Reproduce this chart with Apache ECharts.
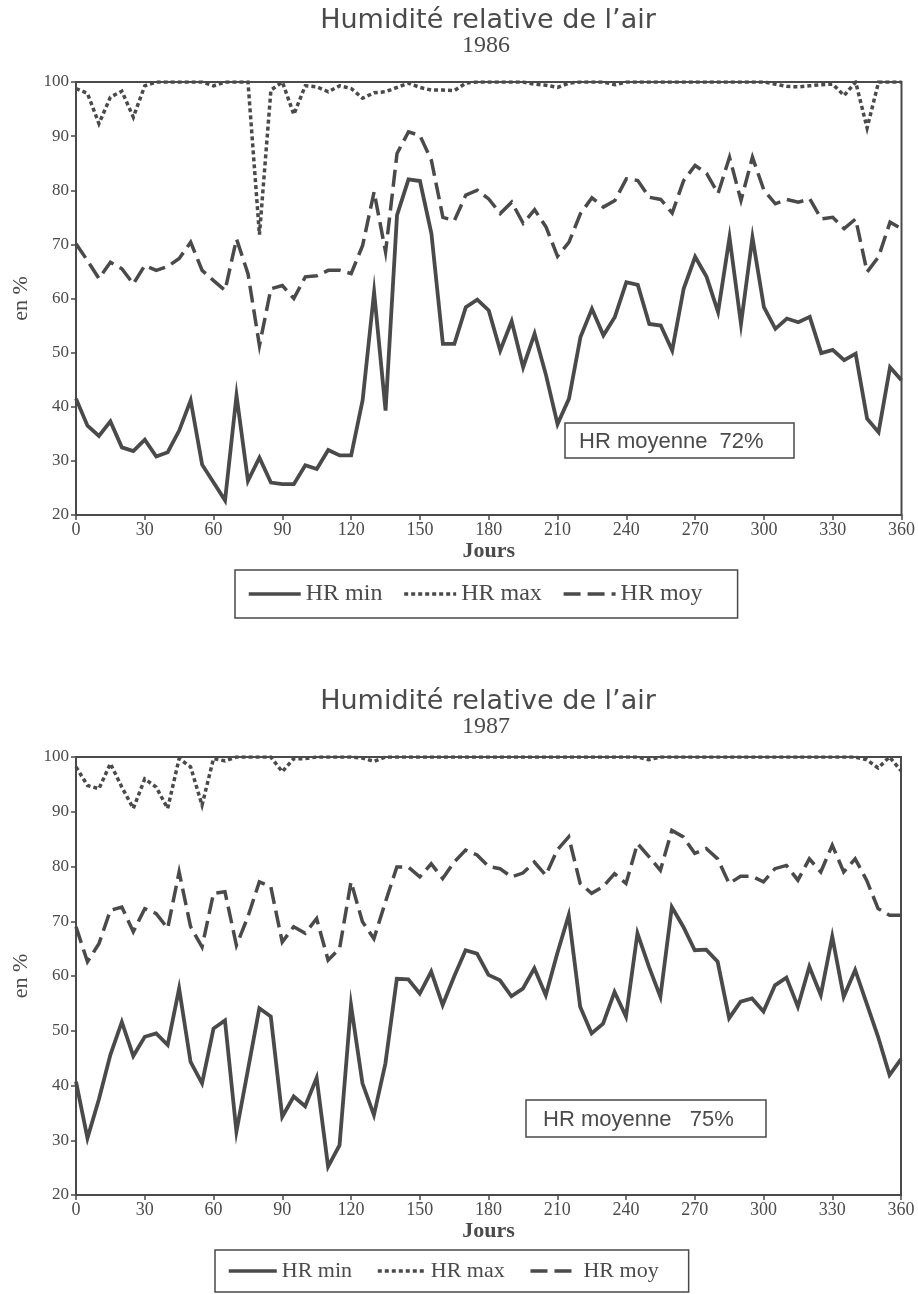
<!DOCTYPE html>
<html lang="fr">
<head>
<meta charset="utf-8">
<title>Humidité relative de l’air 1986–1987</title>
<script src="https://cdn.jsdelivr.net/npm/echarts@6/dist/echarts.min.js"></script>
<style>
  html, body { margin: 0; padding: 0; background: #fff; }
  #chart { width: 918px; height: 1294px; }
</style>
</head>
<body>
<div id="chart"></div>
<script>
// Jours de l'année (pas de 5 jours)
const jours = [0, 5, 10, 15, 20, 25, 30, 35, 40, 45, 50, 55, 60, 65, 70, 75, 80, 85, 90, 95,
  100, 105, 110, 115, 120, 125, 130, 135, 140, 145, 150, 155, 160, 165, 170, 175, 180, 185, 190, 195,
  200, 205, 210, 215, 220, 225, 230, 235, 240, 245, 250, 255, 260, 265, 270, 275, 280, 285, 290, 295,
  300, 305, 310, 315, 320, 325, 330, 335, 340, 345, 350, 355, 360];

// 1986
const hrMin1986 = [41.5, 36.5, 34.6, 37.3, 32.5, 31.8, 33.9, 30.8, 31.6, 35.6, 41.2, 29.3, 26.0, 22.7, 42.1, 26.3, 30.6, 26.0, 25.7, 25.7,
  29.2, 28.5, 32.0, 31.0, 31.0, 41.2, 61.2, 39.3, 75.4, 82.0, 81.7, 72.0, 51.6, 51.6, 58.4, 59.8, 57.8, 50.4, 55.8, 47.3,
  53.5, 45.8, 36.8, 41.5, 52.9, 58.1, 53.2, 56.6, 63.0, 62.5, 55.3, 55.0, 50.4, 61.8, 67.7, 64.0, 57.5, 71.3, 55.3, 71.3,
  58.4, 54.4, 56.3, 55.6, 56.6, 49.9, 50.5, 48.6, 49.8, 37.8, 35.3, 47.3, 44.9];
const hrMax1986 = [98.8, 97.9, 92.3, 97.2, 98.3, 93.5, 99.3, 100, 100, 100, 100, 100, 99.3, 100, 100, 100, 71.8, 98.5, 100, 94.0,
  99.3, 99.1, 98.2, 99.3, 98.8, 97.0, 98.0, 98.2, 99.0, 99.8, 99.0, 98.5, 98.5, 98.4, 99.8, 100, 100, 100, 100, 100,
  99.6, 99.4, 99.0, 99.8, 100, 100, 100, 99.5, 100, 100, 100, 100, 100, 100, 100, 100, 100, 100, 100, 100,
  100, 99.6, 99.2, 99.1, 99.3, 99.5, 99.6, 97.5, 100, 91.5, 100, 100, 100];
const hrMoy1986 = [70.1, 67.0, 63.7, 66.7, 65.5, 62.7, 66.1, 65.2, 65.9, 67.4, 70.4, 65.2, 63.3, 61.5, 71.0, 64.6, 51.3, 61.8, 62.4, 60.0,
  64.0, 64.2, 65.2, 65.2, 64.6, 69.8, 79.7, 68.6, 86.8, 90.8, 90.1, 85.5, 75.0, 74.4, 79.1, 80.0, 78.4, 75.7, 77.8, 73.9,
  76.4, 73.2, 67.8, 70.4, 75.7, 78.6, 76.9, 78.1, 82.1, 81.8, 78.7, 78.3, 75.8, 81.8, 84.6, 83.1, 79.4, 86.1, 78.1, 86.1,
  80.0, 77.5, 78.3, 77.8, 78.4, 74.7, 75.0, 72.9, 74.7, 64.9, 67.7, 74.1, 72.9];

// 1987
const hrMin1987 = [40.7, 30.4, 37.5, 45.6, 51.6, 45.4, 48.9, 49.5, 47.4, 57.7, 44.3, 40.4, 50.4, 51.9, 31.6, 42.8, 54.1, 52.6, 34.3, 38.0,
  36.2, 41.4, 25.2, 29.1, 54.7, 40.4, 34.6, 44.0, 59.5, 59.4, 56.8, 60.8, 54.7, 59.9, 64.7, 64.1, 60.2, 59.2, 56.3, 57.7,
  61.4, 56.5, 64.1, 71.1, 54.4, 49.5, 51.3, 57.1, 52.6, 67.8, 61.7, 56.2, 72.6, 69.0, 64.7, 64.8, 62.6, 52.3, 55.3, 55.9,
  53.5, 58.3, 59.7, 54.4, 61.7, 56.5, 67.2, 56.2, 61.1, 55.0, 48.9, 41.9, 44.8];
const hrMax1987 = [98.2, 94.8, 94.2, 98.8, 94.5, 90.6, 96.0, 94.5, 90.6, 99.7, 98.2, 91.2, 99.7, 99.3, 100, 100, 100, 100, 97.3, 99.7,
  99.7, 100, 100, 100, 100, 99.8, 99.2, 100, 100, 100, 100, 100, 100, 100, 100, 100, 100, 100, 100, 100,
  100, 100, 100, 100, 100, 100, 100, 100, 100, 100, 99.5, 100, 100, 100, 100, 100, 100, 100, 100, 100,
  100, 100, 100, 100, 100, 100, 100, 100, 100, 99.5, 98.0, 100, 97.5];
const hrMoy1987 = [69.0, 62.6, 65.9, 72.0, 72.6, 68.1, 72.3, 71.4, 68.7, 79.0, 69.0, 65.3, 75.1, 75.4, 65.6, 70.8, 77.2, 76.3, 66.2, 69.0,
  67.8, 70.5, 62.9, 65.0, 77.2, 69.9, 66.8, 73.5, 79.9, 79.9, 78.1, 80.5, 77.8, 80.8, 83.0, 82.1, 80.0, 79.6, 78.1, 78.8,
  80.8, 78.4, 83.0, 85.4, 76.9, 75.1, 76.3, 78.7, 76.9, 84.2, 81.8, 79.3, 86.6, 85.4, 82.4, 83.3, 81.4, 76.9, 78.2, 78.2,
  77.2, 79.6, 80.2, 77.5, 81.4, 79.0, 83.9, 79.0, 81.4, 77.5, 72.3, 71.1, 71.1];

const annees = ['1986', '1987'];
const moyennes = ['HR moyenne  72%', 'HR moyenne   75%'];
const nomsSeries = ['HR min', 'HR max', 'HR moy'];

const INK = '#4a4a4a';
const SERIF = '"Liberation Serif", "Times New Roman", serif';
const SANS = '"Liberation Sans", Arial, sans-serif';

const paires = (vals) => jours.map((j, i) => [j, vals[i]]);

const styles = [
  { type: 'solid', width: 3.8 },
  { type: [4, 3], width: 3.5 },
  { type: [17, 7], width: 3.5 }
];

function serie(nom, vals, idx, style) {
  return {
    name: nom, type: 'line', xAxisIndex: idx, yAxisIndex: idx,
    data: paires(vals), symbol: 'none', smooth: false, animation: false,
    lineStyle: { color: INK, width: style.width, type: style.type, cap: 'butt', join: 'miter' },
    itemStyle: { color: INK }
  };
}

function axeX(idx) {
  return {
    type: 'value', gridIndex: idx, min: 0, max: 360, interval: 30,
    name: 'Jours', nameLocation: 'middle', nameGap: 23,
    nameTextStyle: { fontFamily: SERIF, fontSize: 22, fontWeight: 'bold', color: INK },
    axisLine: { show: true, lineStyle: { color: INK, width: 2 } },
    axisTick: { show: true, length: 5, lineStyle: { color: INK, width: 1.5 } },
    axisLabel: { fontFamily: SERIF, fontSize: 18, color: INK, margin: 6 },
    splitLine: { show: false }
  };
}

function axeY(idx) {
  return {
    type: 'value', gridIndex: idx, min: 20, max: 100, interval: 10,
    name: 'en %', nameLocation: 'middle', nameGap: 44,
    nameTextStyle: { fontFamily: SERIF, fontSize: 22, color: INK },
    axisLine: { show: true, lineStyle: { color: INK, width: 2 } },
    axisTick: { show: true, length: 5, lineStyle: { color: INK, width: 1.5 } },
    axisLabel: { fontFamily: SERIF, fontSize: 17, color: INK, margin: 7 },
    splitLine: { show: false }
  };
}

function legende(left, top, fontSize, itemWidth, itemGap, padding) {
  return {
    left: left, top: top, orient: 'horizontal',
    data: nomsSeries,
    itemWidth: itemWidth, itemHeight: 14, itemGap: itemGap,
    padding: padding,
    borderColor: INK, borderWidth: 1.5, borderRadius: 0,
    selectedMode: false,
    // only the line pattern is shown as key, no marker
    itemStyle: { opacity: 0 },
    lineStyle: { width: 3.5 },
    textStyle: { fontFamily: SERIF, fontSize: fontSize, color: INK }
  };
}

function titre(cx, cy, annee) {
  return [
    { type: 'text', x: cx, y: cy, silent: true,
      style: { text: 'Humidité relative de l’air', fontFamily: '"DejaVu Sans", sans-serif', fontSize: 27,
               fill: INK, align: 'center', verticalAlign: 'middle' } },
    { type: 'text', x: cx - 2, y: cy + 25, silent: true,
      style: { text: annee, fontFamily: SERIF, fontSize: 24, fill: INK, align: 'center', verticalAlign: 'middle' } }
  ];
}

function encadre(x, y, w, h, tx, texte) {
  return [
    { type: 'rect', z: 10, silent: true, shape: { x: x, y: y, width: w, height: h },
      style: { fill: '#fff', stroke: INK, lineWidth: 1.5 } },
    { type: 'text', z: 11, x: tx, y: y + h / 2 + 1, silent: true,
      style: { text: texte, fontFamily: SANS, fontSize: 22, fill: INK, align: 'left', verticalAlign: 'middle' } }
  ];
}

const chart = echarts.init(document.getElementById('chart'), null, { renderer: 'canvas' });

chart.setOption({
  backgroundColor: '#fff',
  animation: false,
  grid: [
    { left: 76, top: 82, width: 826, height: 433, show: true, borderColor: INK, borderWidth: 2, containLabel: false },
    { left: 76, top: 757, width: 825, height: 438, show: true, borderColor: INK, borderWidth: 2, containLabel: false }
  ],
  xAxis: [axeX(0), axeX(1)],
  yAxis: [axeY(0), axeY(1)],
  legend: [
    legende(235, 570, 24, 52, 20, [12, 35, 12, 12]),
    legende(215, 1250, 22, 48, 24, [10, 30, 10, 12])
  ],
  series: [
    serie(nomsSeries[0], hrMin1986, 0, styles[0]),
    serie(nomsSeries[1], hrMax1986, 0, styles[1]),
    serie(nomsSeries[2], hrMoy1986, 0, styles[2]),
    serie(nomsSeries[0], hrMin1987, 1, styles[0]),
    serie(nomsSeries[1], hrMax1987, 1, styles[1]),
    serie(nomsSeries[2], hrMoy1987, 1, styles[2])
  ],
  graphic: [
    ...titre(488, 21, annees[0]),
    ...titre(488, 702, annees[1]),
    ...encadre(565, 423, 229, 35, 579, moyennes[0]),
    ...encadre(526, 1100, 240, 37, 543, moyennes[1])
  ]
});
</script>
</body>
</html>
